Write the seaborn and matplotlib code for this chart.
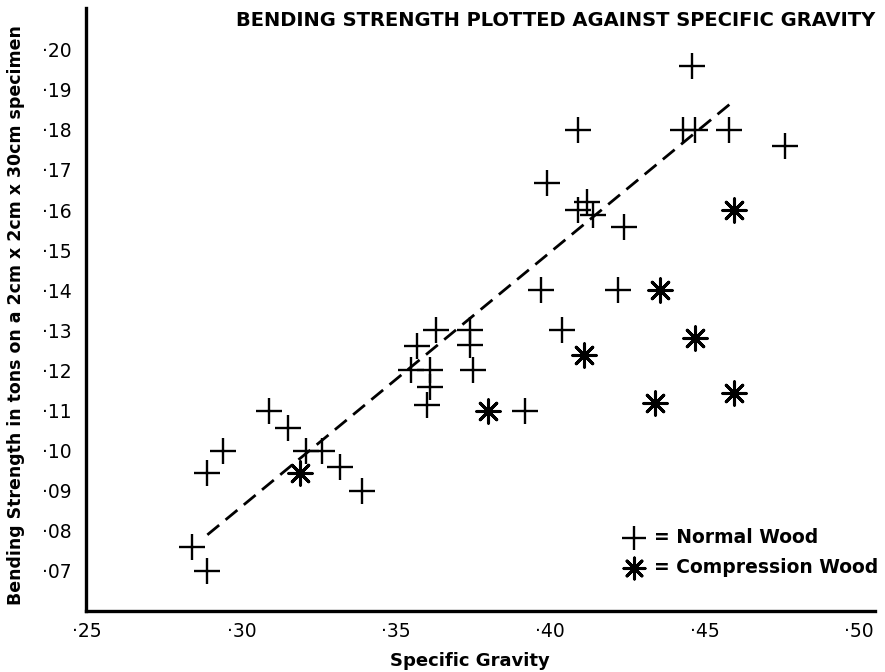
import numpy as np
import matplotlib
matplotlib.use("Agg")
import matplotlib.pyplot as plt
import seaborn as sns

# values
normal_sg = [.284, .289, .289, .294, .309, .315, .321, .326, .332, .339,
             .355, .357, .363, .361, .361, .360, .374, .374, .375, .392,
             .404, .446, .409, .443, .447, .458, .476, .399, .412, .409,
             .414, .424, .397, .422]
normal_bs = [.076, .070, .0945, .100, .110, .1057, .100, .100, .096, .090,
             .120, .126, .130, .120, .1158, .1114, .130, .1263, .120, .110,
             .130, .196, .180, .180, .180, .180, .176, .1668, .162, .160,
             .1588, .1558, .140, .140]

comp_sg = [.319, .380, .411, .434, .447, .4595, .4356, .4595]
comp_bs = [.0945, .110, .1238, .1119, .128, .1143, .140, .160]

# dashed trend line end points
fit_sg = [.289, .4588]
fit_bs = [.079, .1868]

x_ticks = [.25, .30, .35, .40, .45, .50]
y_ticks = [.07, .08, .09, .10, .11, .12, .13, .14, .15, .16, .17, .18, .19, .20]

sns.set_theme(style="white")
plt.rcParams['font.family'] = ['DejaVu Sans']
plt.rcParams['text.color'] = 'black'
plt.rcParams['axes.labelcolor'] = 'black'

fig = plt.figure(figsize=(8.85, 6.72), dpi=100)
ax = fig.add_axes([86 / 885, 61 / 672, 789 / 885, 603 / 672])

sns.lineplot(x=fit_sg, y=fit_bs, ax=ax, color="black", linewidth=2,
             linestyle=(0, (5.5, 3)))
sns.scatterplot(x=normal_sg, y=normal_bs, ax=ax, marker="+", s=360,
                color="black", linewidth=1.7, label="= Normal Wood")
sns.scatterplot(x=comp_sg, y=comp_bs, ax=ax, marker=(8, 2, 0), s=280,
                color="black", linewidth=2.2, label="= Compression Wood")

ax.set_xlim(0.2497, 0.5052)
ax.set_ylim(0.06, 0.2104)

ax.set_xticks(x_ticks)
ax.set_xticklabels(["·" + f"{v:.2f}"[2:] for v in x_ticks])
ax.set_yticks(y_ticks)
ax.set_yticklabels(["·" + f"{v:.2f}"[2:] for v in y_ticks])
ax.tick_params(direction="in", length=10, width=1.6, colors="black",
               labelsize=13.5, pad=10)
ax.tick_params(axis="x", pad=8)

for side in ["top", "right"]:
    ax.spines[side].set_visible(False)
for side in ["left", "bottom"]:
    ax.spines[side].set_linewidth(2.4)
    ax.spines[side].set_color("black")

ax.set_xlabel("Specific Gravity", fontsize=13, fontweight="bold")
ax.xaxis.set_label_coords(0.487, -0.068)
ax.set_ylabel("Bending Strength in tons on a 2cm x 2cm x 30cm specimen",
              fontsize=12.5, fontweight="bold")
ax.yaxis.set_label_coords(-0.077, 0.49)

fig.text(875 / 885, 1 - 20 / 672, "BENDING STRENGTH PLOTTED AGAINST SPECIFIC GRAVITY",
         ha="right", va="center", fontsize=14, fontweight="bold")

leg = ax.legend(loc="lower right", bbox_to_anchor=(1.026, 0.028), frameon=False,
                fontsize=13.5, handletextpad=0.3, labelspacing=0.6,
                handlelength=1.6, markerscale=0.9)
for t in leg.get_texts():
    t.set_fontweight("bold")

fig.savefig("out.png", dpi=100)
